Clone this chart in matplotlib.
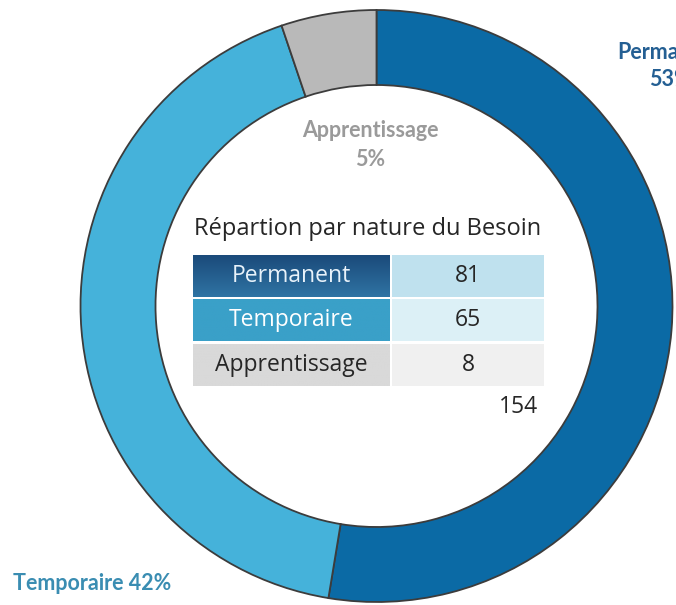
import matplotlib
matplotlib.use("Agg")
import matplotlib.pyplot as plt
from matplotlib.patches import Rectangle
import numpy as np

categories = ["Permanent", "Temporaire", "Apprentissage"]
counts = [81, 65, 8]
total = sum(counts)
ring_colors = ["#0b6aa5", "#45b2da", "#b9b9b9"]
label_colors = ["#245f93", "#3a8db2", "#9a9a9a"]
row_left_top = ["#1b4a7a", "#3aa0c8", "#d9d9d9"]
row_left_bottom = ["#2f74a4", "#3aa0c8", "#d9d9d9"]
row_left_text = ["#e8f2fa", "white", "#262626"]
row_right_colors = ["#bfe1ee", "#dcf0f6", "#f0f0f0"]
table_title = "Répartion par nature du Besoin"

W, H = 676, 605
fig = plt.figure(figsize=(W / 100, H / 100), dpi=100)
ax = fig.add_axes([0, 0, 1, 1])

def py(y):
    return H - y

cx, cy = 376.5, py(306)
radius = 296
ring_w = 75

# donut ring
wedges, _ = ax.pie(counts, colors=ring_colors, startangle=90, counterclock=False,
                   center=(cx, cy), radius=radius, frame=True,
                   wedgeprops=dict(width=ring_w, edgecolor="#3c3c3c", linewidth=1.3))
ax.set_xlim(0, W)
ax.set_ylim(0, H)
ax.set_aspect("equal")
ax.axis("off")

# percentage labels
pcts = [round(100 * c / total) for c in counts]
lab_font = "Lato"
ax.text(670, py(66), f"{categories[0]}\n{pcts[0]}%", ha="center", va="center",
        fontsize=15.5, fontweight="bold", color=label_colors[0], family=lab_font,
        linespacing=1.3)
ax.text(370, py(145), f"{categories[2]}\n{pcts[2]}%", ha="center", va="center",
        fontsize=15.5, fontweight="bold", color=label_colors[2], family=lab_font,
        linespacing=1.45)
ax.text(92, py(583), f"{categories[1]} {pcts[1]}%", ha="center", va="center",
        fontsize=15.5, fontweight="bold", color=label_colors[1], family=lab_font)

# summary table
tab_font = "Open Sans"
ax.text(367.5, py(229), table_title, ha="center", va="center", fontsize=17,
        color="#262626", family=tab_font)
row_tops = [255, 299, 344]
row_h = 42
lx0, lx1 = 193, 390
rx0, rx1 = 392, 544
for i, (cat, val) in enumerate(zip(categories, counts)):
    top = row_tops[i]
    grad = np.linspace(0, 1, 64)[:, None, None]
    c0 = np.array(matplotlib.colors.to_rgb(row_left_top[i]))
    c1 = np.array(matplotlib.colors.to_rgb(row_left_bottom[i]))
    img = c0 * (1 - grad) + c1 * grad
    ax.imshow(img, extent=(lx0, lx1, py(top + row_h), py(top)), aspect="auto",
              interpolation="bilinear", zorder=2)
    ax.add_patch(Rectangle((rx0, py(top + row_h)), rx1 - rx0, row_h,
                           facecolor=row_right_colors[i], edgecolor="none", zorder=2))
    ym = py(top + row_h / 2)
    ax.text((lx0 + lx1) / 2, ym, cat, ha="center", va="center", fontsize=16.5,
            color=row_left_text[i], family=tab_font, zorder=3)
    ax.text((rx0 + rx1) / 2, ym, str(val), ha="center", va="center", fontsize=16.5,
            color="#262626", family=tab_font, zorder=3)
ax.text(538, py(407), str(total), ha="right", va="center", fontsize=16.5,
        color="#262626", family=tab_font)
ax.set_xlim(0, W)
ax.set_ylim(0, H)

fig.savefig("out.png", dpi=100, facecolor="white")
